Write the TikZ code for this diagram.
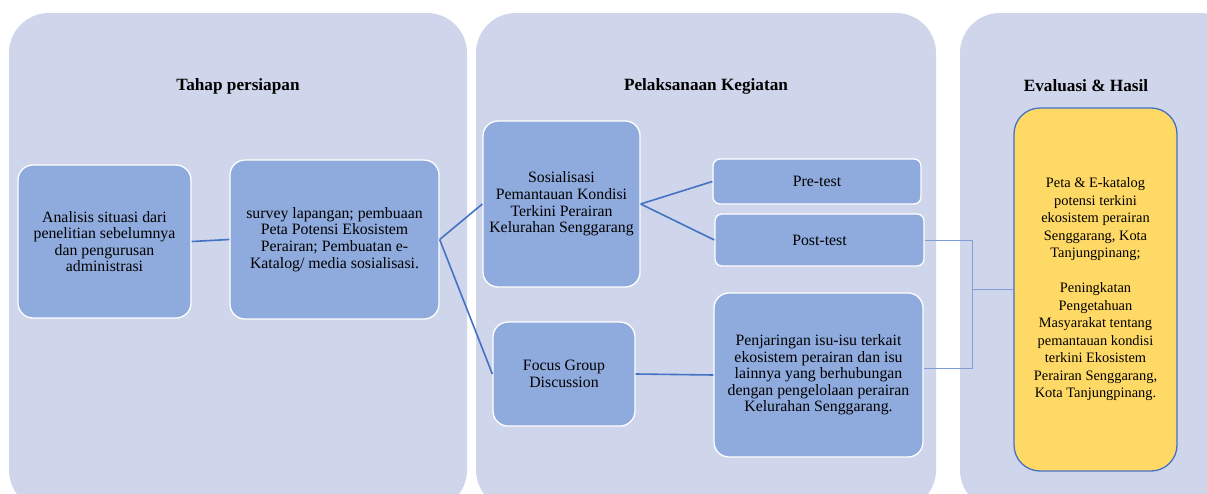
\documentclass[tikz,border=0pt]{standalone}
\usepackage{fontspec}
\setmainfont{Liberation Serif}
\definecolor{panelbg}{HTML}{CFD5EA}
\definecolor{boxblue}{HTML}{8FAADC}
\definecolor{linkblue}{HTML}{4472C4}
\definecolor{lightlink}{HTML}{7F9FD6}
\definecolor{resyellow}{HTML}{FFD966}
\begin{document}
\begin{tikzpicture}[x=1pt,y=-1pt,
  panel/.style={fill=panelbg, draw=none, rounded corners=40pt},
  ttl/.style={font=\fontsize{17.2}{19}\selectfont\bfseries, anchor=center},
  stepbox/.style={rectangle, rounded corners=15pt, fill=boxblue, draw=white, line width=1.3pt,
    align=center, inner sep=0pt, font=\fontsize{15.8}{16.6}\selectfont},
  resbox/.style={rectangle, rounded corners=26pt, fill=resyellow, draw=linkblue, line width=1.3pt,
    align=center, inner sep=0pt, font=\fontsize{14.4}{17.5}\selectfont},
  link/.style={draw=linkblue, line width=1.6pt},
  thinlink/.style={draw=lightlink, line width=1pt}]
\useasboundingbox (0,0) rectangle (1207,493);
\clip (0,0) rectangle (1207,493);
\fill[white] (0,0) rectangle (1207,493);
% panels
\path[panel] (9,13) rectangle (467,510);
\path[panel] (476,13) rectangle (936,510);
\path[panel] (960,13) rectangle (1240,510);
% titles
\node[ttl] (t1) at (238,86) {Tahap persiapan};
\node[ttl] (t2) at (706,86) {Pelaksanaan Kegiatan};
\node[ttl] (t3) at (1086,86) {Evaluasi \& Hasil};
% boxes
\node[stepbox, minimum width=173pt, minimum height=153pt] (A) at (104.5,241.5)
  {Analisis situasi dari\\penelitian sebelumnya\\dan pengurusan\\administrasi};
\node[stepbox, minimum width=209pt, minimum height=159pt] (B) at (334.5,239.5)
  {survey lapangan; pembuaan\\Peta Potensi Ekosistem\\Perairan; Pembuatan e-\\Katalog/ media sosialisasi.};
\node[stepbox, minimum width=157pt, minimum height=166pt] (C) at (561.5,204)
  {Sosialisasi\\Pemantauan Kondisi\\Terkini Perairan\\Kelurahan Senggarang};
\node[stepbox, rounded corners=7pt, minimum width=208pt, minimum height=45pt] (D) at (817,181.5)
  {Pre-test};
\node[stepbox, rounded corners=7pt, minimum width=209pt, minimum height=52pt] (E) at (819.5,240)
  {Post-test};
\node[stepbox, minimum width=142pt, minimum height=104pt] (F) at (564,374)
  {Focus Group\\Discussion};
\node[stepbox, minimum width=209pt, minimum height=164pt] (G) at (818.5,375)
  {Penjaringan isu-isu terkait\\ekosistem perairan dan isu\\lainnya yang berhubungan\\dengan pengelolaan perairan\\Kelurahan Senggarang.};
\node[resbox, minimum width=163pt, minimum height=363pt] (H) at (1095.5,289.5)
  {Peta \& E-katalog\\potensi terkini\\ekosistem perairan\\Senggarang, Kota\\Tanjungpinang;\\[17.5pt]Peningkatan\\Pengetahuan\\Masyarakat tentang\\pemantauan kondisi\\terkini Ekosistem\\Perairan Senggarang,\\Kota Tanjungpinang.};
% connectors
\draw[link] (A.east) -- (B.east -| B.west);
\draw[link] (B.east) -- (C.west);
\draw[link] (B.east) -- (F.west);
\draw[link] (C.east) -- (D.west);
\draw[link] (C.east) -- (E.west);
\draw[link] (F.east) -- (G.west);
\coordinate (j) at (972,289.5);
\draw[thinlink] (E.east) -| (j) -- (H.west);
\draw[thinlink] ([yshift=7pt]G.east) -| (j);
\end{tikzpicture}
\end{document}
